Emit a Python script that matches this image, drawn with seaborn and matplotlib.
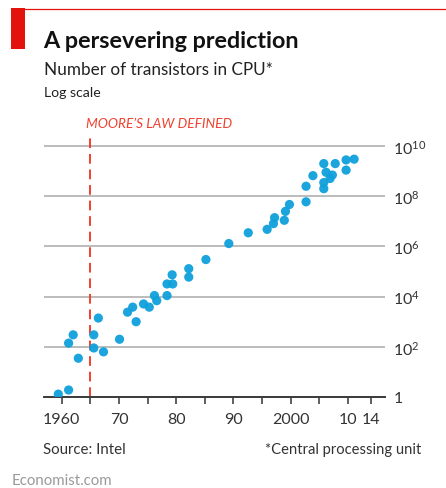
import matplotlib
matplotlib.use("Agg")
import matplotlib.pyplot as plt
import matplotlib.ticker as mticker
import seaborn as sns
import pandas as pd

# Transistor counts per CPU (log scale)
years = [1959.4, 1961.2, 1961.2, 1962.0, 1962.9, 1965.6, 1965.6, 1966.4, 1967.3,
         1970.1, 1971.5, 1972.4, 1973.0, 1974.3, 1975.3, 1976.2, 1976.6, 1978.4,
         1978.4, 1979.4, 1979.3, 1982.2, 1982.2, 1985.2, 1989.2, 1992.6, 1995.9,
         1997.0, 1997.2, 1998.9, 1999.1, 1999.8, 2002.7, 2002.7, 2003.9, 2005.8,
         2005.8, 2005.8, 2006.2, 2006.9, 2007.3, 2007.8, 2009.7, 2009.7, 2011.1]
transistors = [1.3, 1.9, 140, 300, 35, 300, 90, 1400, 63,
               200, 2400, 3800, 1000, 5100, 3800, 11000, 6900, 11000,
               32000, 32000, 74000, 60000, 130000, 300000, 1.3e6, 3.5e6, 4.8e6,
               8.1e6, 1.4e7, 1.1e7, 2.5e7, 4.7e7, 6.0e7, 2.5e8, 6.6e8, 2.0e8,
               3.5e8, 2.0e9, 9.0e8, 5.1e8, 7.0e8, 2.0e9, 1.1e9, 2.8e9, 3.0e9]

xtick_years = [1960, 1970, 1980, 1990, 2000, 2010, 2014]
xtick_labels = ["1960", "70", "80", "90", "2000", "10", "14"]
ytick_values = [1, 1e2, 1e4, 1e6, 1e8, 1e10]
ytick_labels = ["1", "$10^{2}$", "$10^{4}$", "$10^{6}$", "$10^{8}$", "$10^{10}$"]
moore_year = 1965

df = pd.DataFrame({"year": years, "transistors": transistors})

sns.set_style("white")
plt.rcParams["font.family"] = ["Lato", "DejaVu Sans"]
plt.rcParams["mathtext.fontset"] = "custom"
plt.rcParams["mathtext.rm"] = "Lato"
plt.rcParams["mathtext.it"] = "Lato:italic"

W, H = 446, 489
RED = "#e3120b"
BLUE = "#0fa0dc"
DARK = "#333333"

fig = plt.figure(figsize=(W / 100, H / 100), dpi=100)
ax = fig.add_axes([44 / W, (H - 398) / H, 341 / W, (398 - 134.5) / H])

ax.axvline(moore_year, color="#f0412f", lw=1.4, ls=(0, (5, 3)), zorder=2)
sns.scatterplot(data=df, x="year", y="transistors", ax=ax, s=44, color=BLUE,
                edgecolor="none", alpha=0.95, zorder=3, legend=False)

ax.set_yscale("log")
ax.set_ylim(1, 10 ** 10.5)
ax.set_xlim(1956.9, 2016.5)

ax.set_xticks(xtick_years)
ax.set_xticklabels(xtick_labels)
ax.set_xticks([1965, 1975, 1985, 1995, 2005], minor=True)
ax.tick_params(axis="x", which="both", length=5, width=1.1, color=DARK,
               direction="out", pad=6, labelsize=11.5, labelcolor=DARK, bottom=True)

ax.yaxis.tick_right()
ax.set_yticks(ytick_values)
ax.set_yticklabels(ytick_labels)
ax.yaxis.set_minor_locator(mticker.NullLocator())
ax.tick_params(axis="y", length=0, pad=6, labelsize=11.5, labelcolor=DARK)

ax.grid(axis="y", color="#bcbcbc", lw=1.4)
ax.grid(axis="x", visible=False)
for side in ["left", "right", "top"]:
    ax.spines[side].set_visible(False)
ax.spines["bottom"].set_color("#3a3a3a")
ax.spines["bottom"].set_linewidth(1.4)
ax.set_xlabel("")
ax.set_ylabel("")


def fx(px):
    return px / W


def fy(py):
    return 1 - py / H


# Economist red header
fig.add_artist(plt.Line2D([fx(11), 1], [fy(9.5), fy(9.5)], color=RED, lw=0.9))
fig.add_artist(plt.Rectangle((fx(11), fy(50)), 14 / W, 41 / H, color=RED, lw=0))

fig.text(fx(43), fy(48), "A persevering prediction", fontsize=16.8,
         fontweight="bold", color="#111111", va="baseline")
fig.text(fx(44), fy(75), "Number of transistors in CPU*", fontsize=12.3,
         color="#222222", va="baseline")
fig.text(fx(44), fy(97), "Log scale", fontsize=10.2, color="#222222", va="baseline")
fig.text(fx(86), fy(128), "MOORE\u2019S LAW DEFINED", fontsize=9.8, style="italic",
         color="#f0412f", va="baseline")

fig.text(fx(43), fy(454), "Source: Intel", fontsize=10.8, color=DARK, va="baseline")
fig.text(fx(421), fy(454), "*Central processing unit", fontsize=10.6, color=DARK,
         va="baseline", ha="right")
fig.text(fx(12), fy(485), "Economist.com", fontsize=10.8, color="#9a9a9a", va="baseline")

fig.savefig("out.png", dpi=100)
